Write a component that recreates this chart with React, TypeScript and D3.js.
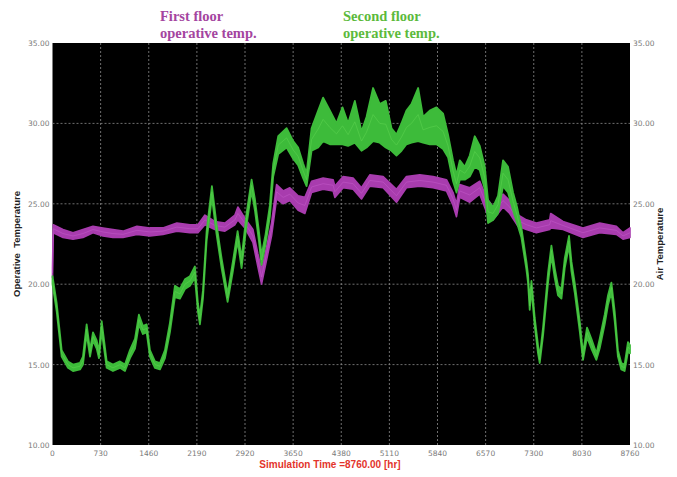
import React from "react";
import * as d3 from "d3";

// Annual simulation: operative temperature of two floors, hourly range bands [hour, low, high]
const firstFloor: [number, number, number][] = [
  [0, 20.4, 21.0], [12, 23.2, 23.7], [159, 22.9, 23.4], [311, 22.8, 23.2], [462, 22.9, 23.4],
  [614, 23.2, 23.6], [766, 23.0, 23.5], [917, 22.9, 23.4], [1069, 22.9, 23.3], [1281, 23.1, 23.6],
  [1478, 23.0, 23.5], [1675, 23.1, 23.5], [1887, 23.3, 23.8], [2085, 23.2, 23.7], [2206, 23.2, 23.7],
  [2312, 23.7, 24.3], [2463, 23.4, 23.9], [2615, 23.3, 23.8], [2767, 23.7, 24.3], [2812, 24.0, 24.8],
  [2918, 23.5, 24.1], [3040, 22.6, 23.4], [3115, 21.1, 21.9], [3171, 20.0, 20.9], [3247, 21.5, 22.3],
  [3323, 23.0, 23.8], [3399, 25.3, 26.2], [3499, 25.0, 25.8], [3600, 25.2, 26.0], [3726, 24.6, 25.5],
  [3828, 24.4, 25.4], [3930, 25.7, 26.4], [4105, 25.9, 26.6], [4257, 25.8, 26.5], [4283, 25.4, 26.1],
  [4409, 26.0, 26.7], [4560, 25.9, 26.6], [4687, 25.3, 26.0], [4813, 26.1, 26.8], [5015, 26.0, 26.7],
  [5218, 25.1, 25.9], [5369, 26.0, 26.7], [5571, 26.1, 26.8], [5773, 26.0, 26.7], [5976, 25.8, 26.5],
  [6076, 24.9, 25.7], [6128, 24.2, 25.0], [6178, 25.4, 26.2], [6329, 25.1, 26.0], [6481, 25.6, 26.4],
  [6582, 24.5, 25.4], [6683, 24.0, 24.8], [6834, 24.8, 25.6], [6936, 24.4, 25.2], [7062, 23.6, 24.3],
  [7189, 23.4, 24.0], [7340, 23.2, 23.8], [7542, 23.4, 24.0], [7557, 23.5, 24.4], [7744, 23.4, 23.9],
  [8047, 22.9, 23.5], [8300, 23.2, 23.8], [8553, 23.1, 23.6], [8654, 22.8, 23.2], [8760, 22.9, 23.5],
];

const secondFloor: [number, number, number][] = [
  [0, 20.0, 20.5], [64, 18.3, 18.8], [139, 15.5, 15.9], [235, 14.8, 15.2], [311, 14.6, 15.0],
  [417, 14.7, 15.1], [462, 15.0, 15.5], [518, 16.9, 17.5], [569, 15.5, 15.9], [614, 16.5, 17.0],
  [670, 16.0, 16.5], [705, 15.4, 15.8], [746, 17.1, 17.7], [822, 14.8, 15.2], [917, 14.6, 15.0],
  [1023, 14.8, 15.2], [1099, 14.6, 15.0], [1175, 15.4, 15.9], [1251, 16.0, 16.6], [1311, 17.5, 18.1],
  [1372, 16.9, 17.4], [1428, 17.0, 17.5], [1478, 15.5, 15.9], [1554, 14.8, 15.2], [1630, 14.7, 15.1],
  [1706, 15.4, 15.9], [1781, 17.0, 17.6], [1857, 19.2, 19.9], [1933, 19.1, 19.7], [2009, 19.7, 20.3],
  [2085, 19.9, 20.5], [2160, 20.4, 21.1], [2206, 18.3, 18.8], [2236, 17.5, 18.0], [2282, 19.1, 19.6],
  [2338, 22.7, 23.3], [2418, 25.4, 26.1], [2489, 23.1, 23.7], [2565, 21.0, 21.6], [2656, 18.9, 19.4],
  [2736, 20.8, 21.4], [2808, 22.7, 23.3], [2868, 21.0, 21.6], [2944, 23.7, 24.4], [3020, 25.8, 26.5],
  [3070, 24.6, 25.3], [3131, 22.7, 23.3], [3171, 21.2, 21.8], [3232, 22.5, 23.1], [3297, 24.2, 24.9],
  [3348, 26.7, 27.5], [3424, 28.1, 29.2], [3551, 28.5, 29.7], [3651, 27.8, 28.9], [3726, 27.4, 28.5],
  [3802, 26.6, 27.5], [3854, 26.1, 26.9], [3930, 28.3, 29.7], [4030, 28.5, 30.8], [4105, 28.9, 31.6],
  [4207, 28.7, 30.8], [4308, 28.7, 30.0], [4399, 28.7, 31.0], [4484, 28.6, 30.0], [4586, 28.8, 31.4],
  [4687, 28.3, 29.5], [4763, 28.5, 30.4], [4863, 28.9, 32.2], [4964, 28.8, 31.2], [5055, 28.5, 31.4],
  [5142, 28.3, 29.7], [5218, 28.0, 29.3], [5294, 28.3, 30.0], [5369, 28.7, 30.8], [5445, 28.8, 31.2],
  [5546, 28.9, 32.2], [5621, 28.8, 30.4], [5723, 28.7, 30.8], [5824, 28.7, 31.0], [5925, 28.4, 30.6],
  [6000, 27.9, 29.3], [6076, 26.4, 27.7], [6128, 25.7, 26.8], [6178, 26.5, 27.7], [6254, 26.5, 27.3],
  [6329, 26.7, 28.0], [6405, 27.3, 29.2], [6481, 27.1, 28.6], [6557, 25.9, 27.3], [6607, 23.8, 25.2],
  [6683, 24.0, 24.8], [6758, 24.4, 25.5], [6834, 26.1, 27.7], [6910, 25.7, 27.3], [6986, 24.6, 25.7],
  [7046, 23.8, 24.8], [7113, 22.9, 23.5], [7189, 20.9, 21.4], [7213, 20.1, 20.6], [7239, 18.4, 18.9],
  [7265, 19.7, 20.2], [7315, 17.4, 17.9], [7365, 15.7, 16.2], [7391, 15.1, 15.5], [7441, 16.8, 17.3],
  [7517, 20.1, 20.7], [7568, 21.8, 22.4], [7618, 20.4, 21.0], [7668, 19.3, 19.9], [7720, 19.1, 19.7],
  [7770, 21.0, 21.6], [7835, 22.4, 23.0], [7872, 20.8, 21.4], [7921, 19.5, 20.1], [7997, 17.1, 17.7],
  [8047, 15.3, 15.7], [8108, 16.7, 17.3], [8174, 16.0, 16.6], [8250, 15.3, 15.7], [8300, 16.0, 16.6],
  [8376, 17.5, 18.1], [8426, 18.7, 19.3], [8478, 19.5, 20.1], [8528, 17.7, 18.3], [8577, 15.5, 15.9],
  [8628, 14.7, 15.1], [8678, 14.6, 15.0], [8729, 15.8, 16.4], [8760, 15.7, 16.2],
];

const xTicks = [0, 730, 1460, 2190, 2920, 3650, 4380, 5110, 5840, 6570, 7300, 8030, 8760];
const yTicks = [10, 15, 20, 25, 30, 35];
const yGrid = [15, 20, 25, 30];

const W = 677;
const H = 477;
const plot = { left: 52.5, right: 630, top: 43, bottom: 445 };

const x = d3.scaleLinear().domain([0, 8760]).range([plot.left, plot.right]);
const y = d3.scaleLinear().domain([10, 35]).range([plot.bottom, plot.top]);

const band = d3
  .area<[number, number, number]>()
  .x((d) => x(d[0]))
  .y0((d) => y(d[1]))
  .y1((d) => y(d[2]));

const mid = d3
  .line<[number, number, number]>()
  .x((d) => x(d[0]))
  .y((d) => y((d[1] + d[2]) / 2));

const MAGENTA = "#a83cae";
const MAGENTA_LIGHT = "#c65ccc";
const GREEN = "#3dbb3a";
const GREEN_LIGHT = "#5fd652";

export default function App() {
  const tickFont = "DejaVu Sans, sans-serif";
  return (
    <svg
      width={W}
      height={H}
      viewBox={`0 0 ${W} ${H}`}
      style={{ position: "absolute", left: 0, top: 0, background: "#fff" }}
    >
      <rect
        x={plot.left}
        y={plot.top}
        width={plot.right - plot.left}
        height={plot.bottom - plot.top}
        fill="#000"
      />

      {/* grid */}
      {xTicks.slice(1, -1).map((t) => (
        <line
          key={`gx${t}`}
          x1={x(t)}
          x2={x(t)}
          y1={plot.top}
          y2={plot.bottom}
          stroke="#8a8a8a"
          strokeWidth={0.8}
          strokeDasharray="2,2"
        />
      ))}
      {yGrid.map((t) => (
        <line
          key={`gy${t}`}
          x1={plot.left}
          x2={plot.right}
          y1={y(t)}
          y2={y(t)}
          stroke="#8a8a8a"
          strokeWidth={0.8}
          strokeDasharray="2,2"
        />
      ))}

      {/* first floor */}
      <path d={band(firstFloor) ?? ""} fill={MAGENTA} stroke={MAGENTA} strokeWidth={1.6} strokeLinejoin="round" />
      <path d={mid(firstFloor) ?? ""} fill="none" stroke={MAGENTA_LIGHT} strokeWidth={1} opacity={0.5} />

      {/* second floor */}
      <path d={band(secondFloor) ?? ""} fill={GREEN} stroke={GREEN} strokeWidth={1.8} strokeLinejoin="round" />
      <path d={mid(secondFloor) ?? ""} fill="none" stroke={GREEN_LIGHT} strokeWidth={1} opacity={0.5} />

      {/* left and right value labels */}
      {yTicks.map((t) => (
        <g key={`yl${t}`} fontFamily={tickFont} fontSize={7.5} fill="#7a7a7a">
          <text x={plot.left - 3} y={y(t) + 3} textAnchor="end">
            {t.toFixed(2)}
          </text>
          <text x={plot.right + 3} y={y(t) + 3} textAnchor="start">
            {t.toFixed(2)}
          </text>
        </g>
      ))}

      {/* time labels */}
      {xTicks.map((t) => (
        <text
          key={`xl${t}`}
          x={x(t)}
          y={plot.bottom + 11}
          textAnchor="middle"
          fontFamily={tickFont}
          fontSize={7.5}
          fill="#7a7a7a"
        >
          {t}
        </text>
      ))}

      {/* axis titles */}
      <text
        transform={`translate(20,${(plot.top + plot.bottom) / 2}) rotate(-90)`}
        textAnchor="middle"
        fontFamily="Liberation Sans, Arial, sans-serif"
        fontWeight="bold"
        fontSize={9.5}
        fill="#222"
        style={{ whiteSpace: "pre" }}
      >
        {"Operative  Temperature"}
      </text>
      <text
        transform={`translate(663,${(plot.top + plot.bottom) / 2}) rotate(-90)`}
        textAnchor="middle"
        fontFamily="Liberation Sans, Arial, sans-serif"
        fontWeight="bold"
        fontSize={9.5}
        fill="#222"
      >
        Air Temperature
      </text>
      <text
        x={330}
        y={468}
        textAnchor="middle"
        fontFamily="Liberation Sans, Arial, sans-serif"
        fontWeight="bold"
        fontSize={10}
        fill="#e3342c"
      >
        Simulation Time =8760.00 [hr]
      </text>

      {/* series captions */}
      <g fontFamily="Liberation Serif, Times New Roman, serif" fontWeight="bold" fontSize={14.5}>
        <text x={160} y={21} fill="#a4459f">First floor</text>
        <text x={160} y={38} fill="#a4459f">operative temp.</text>
        <text x={343} y={21} fill="#5cba3c">Second floor</text>
        <text x={343} y={38} fill="#5cba3c">operative temp.</text>
      </g>
    </svg>
  );
}
